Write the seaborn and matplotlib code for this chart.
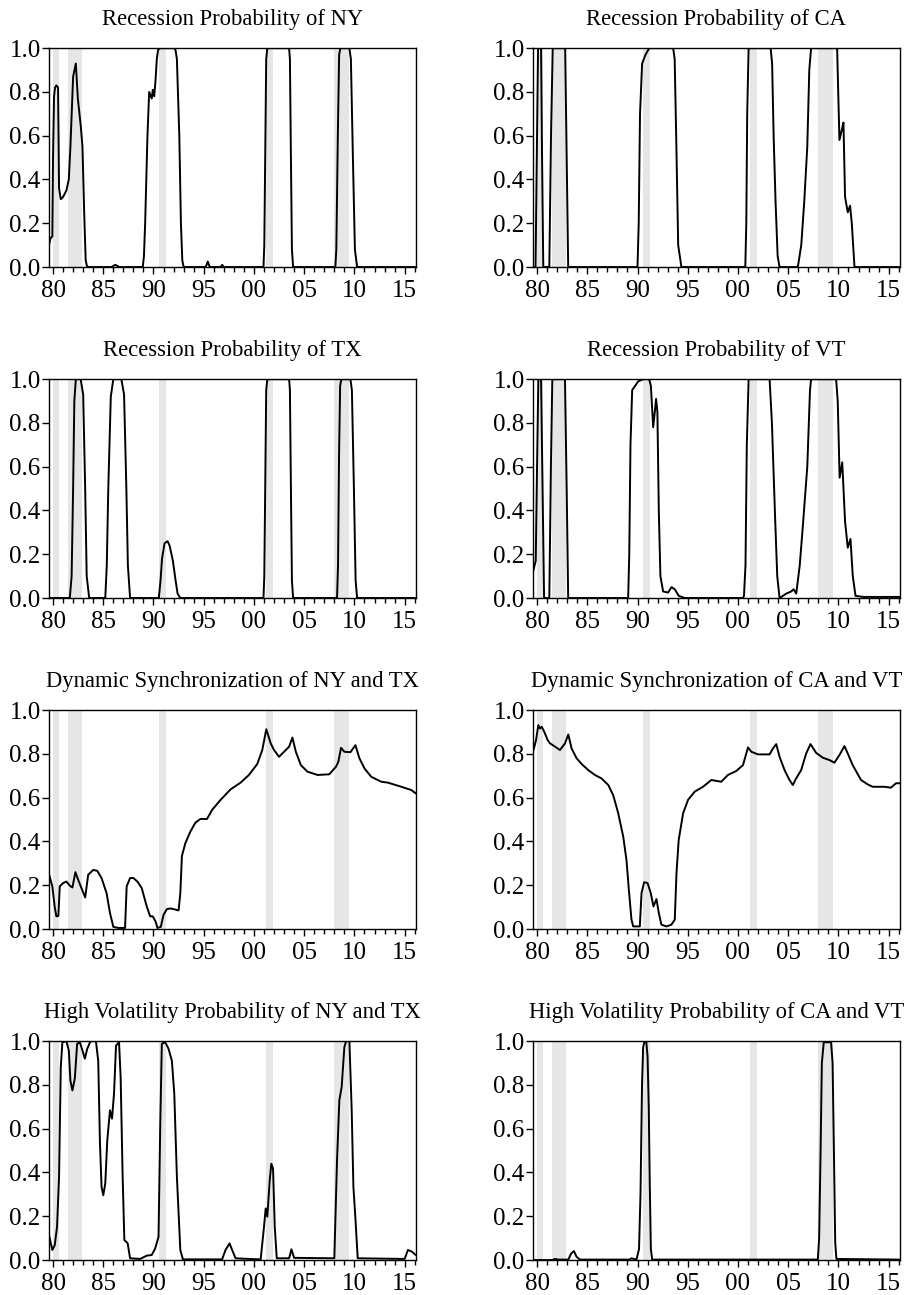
import matplotlib
matplotlib.use("Agg")
import matplotlib.pyplot as plt
import seaborn as sns
import pandas as pd
from matplotlib.ticker import MultipleLocator, FuncFormatter

# ---------------- data (decimal year, value) ----------------
NY_REC = [(1979.60,0.10),(1979.73,0.13),(1979.93,0.14),(1980.00,0.50),(1980.10,0.78),(1980.20,0.82),
          (1980.33,0.83),(1980.50,0.82),(1980.60,0.36),(1980.77,0.31),(1981.00,0.32),(1981.33,0.35),
          (1981.57,0.40),(1981.73,0.55),(1982.00,0.87),(1982.27,0.93),(1982.47,0.77),(1982.77,0.64),
          (1982.93,0.55),(1983.10,0.25),(1983.25,0.03),(1983.40,0.00),(1985.80,0.00),(1986.20,0.01),
          (1986.60,0.00),(1988.93,0.00),(1989.05,0.05),(1989.17,0.20),(1989.40,0.60),(1989.57,0.80),
          (1989.83,0.77),(1989.93,0.81),(1990.07,0.78),(1990.20,0.85),(1990.33,0.95),(1990.45,0.99),
          (1990.60,1.00),(1992.07,1.00),(1992.20,0.99),(1992.33,0.95),(1992.57,0.60),(1992.73,0.20),
          (1992.87,0.03),(1993.00,0.00),(1995.20,0.00),(1995.40,0.025),(1995.60,0.00),(1996.70,0.00),
          (1996.83,0.01),(1997.00,0.00),(2000.95,0.00),(2001.03,0.10),(2001.12,0.50),(2001.22,0.95),
          (2001.33,1.00),(2003.50,1.00),(2003.58,0.95),(2003.68,0.50),(2003.78,0.08),(2003.90,0.00),
          (2008.10,0.00),(2008.20,0.08),(2008.35,0.60),(2008.48,0.97),(2008.60,1.00),(2009.50,1.00),
          (2009.65,0.95),(2009.85,0.50),(2010.05,0.08),(2010.27,0.00),(2016.10,0.00)]

CA_REC = [(1979.60,0.00),(1979.85,0.00),(1980.00,0.60),(1980.10,1.00),(1980.40,1.00),(1980.50,0.50),
          (1980.62,0.00),(1981.22,0.00),(1981.39,0.60),(1981.56,1.00),(1982.80,1.00),(1982.95,0.50),
          (1983.10,0.00),(1990.00,0.00),(1990.12,0.20),(1990.25,0.70),(1990.46,0.93),(1990.80,0.97),
          (1991.16,1.00),(1993.55,1.00),(1993.70,0.95),(1993.85,0.60),(1994.05,0.10),(1994.37,0.00),
          (2000.73,0.00),(2000.83,0.20),(2000.92,0.70),(2001.06,1.00),(2003.25,1.00),(2003.40,0.93),
          (2003.55,0.60),(2003.74,0.30),(2003.95,0.05),(2004.14,0.00),(2005.96,0.00),(2006.30,0.10),
          (2006.60,0.30),(2006.90,0.55),(2007.10,0.90),(2007.28,1.00),(2009.87,1.00),(2010.10,0.58),
          (2010.35,0.63),(2010.50,0.66),(2010.66,0.32),(2010.93,0.25),(2011.16,0.28),(2011.33,0.20),
          (2011.60,0.00),(2016.10,0.00)]

TX_REC = [(1979.60,0.00),(1981.67,0.00),(1981.85,0.10),(1982.00,0.50),(1982.12,0.90),(1982.27,1.00),
          (1982.75,1.00),(1983.00,0.93),(1983.20,0.50),(1983.35,0.10),(1983.60,0.00),(1985.20,0.00),
          (1985.35,0.15),(1985.50,0.50),(1985.75,0.92),(1986.00,1.00),(1986.80,1.00),(1987.07,0.93),
          (1987.30,0.50),(1987.45,0.15),(1987.67,0.00),(1990.53,0.00),(1990.70,0.08),(1990.85,0.18),
          (1991.10,0.25),(1991.40,0.26),(1991.60,0.24),(1991.93,0.17),(1992.20,0.08),(1992.40,0.02),
          (1992.67,0.00),(2000.95,0.00),(2001.03,0.10),(2001.12,0.50),(2001.22,0.95),(2001.33,1.00),
          (2003.50,1.00),(2003.58,0.95),(2003.68,0.50),(2003.78,0.08),(2003.90,0.00),(2008.27,0.00),
          (2008.37,0.15),(2008.47,0.65),(2008.58,0.97),(2008.70,1.00),(2009.60,1.00),(2009.75,0.95),
          (2009.95,0.50),(2010.12,0.08),(2010.27,0.00),(2016.10,0.00)]

VT_REC = [(1979.60,0.12),(1979.87,0.17),(1980.00,0.60),(1980.13,1.00),(1980.40,1.00),(1980.55,0.50),
          (1980.70,0.00),(1981.22,0.00),(1981.38,0.60),(1981.52,1.00),(1982.78,1.00),(1982.95,0.50),
          (1983.10,0.00),(1989.07,0.00),(1989.18,0.20),(1989.30,0.70),(1989.47,0.95),(1990.07,0.99),
          (1990.60,1.00),(1991.16,1.00),(1991.33,0.97),(1991.56,0.78),(1991.72,0.85),(1991.85,0.91),
          (1991.98,0.85),(1992.12,0.40),(1992.28,0.10),(1992.55,0.03),(1993.05,0.025),(1993.38,0.05),
          (1993.71,0.04),(1994.10,0.01),(1994.70,0.00),(2000.50,0.00),(2000.60,0.01),(2000.75,0.15),
          (2000.88,0.70),(2001.06,1.00),(2003.15,1.00),(2003.38,0.80),(2003.71,0.35),(2003.91,0.10),
          (2004.14,0.00),(2004.80,0.02),(2005.30,0.03),(2005.54,0.04),(2005.80,0.02),(2006.15,0.15),
          (2006.46,0.33),(2006.90,0.60),(2007.17,0.95),(2007.28,1.00),(2009.77,1.00),(2009.93,0.90),
          (2010.12,0.55),(2010.38,0.62),(2010.66,0.35),(2010.93,0.23),(2011.20,0.27),(2011.43,0.10),
          (2011.70,0.01),(2012.50,0.005),(2016.10,0.005)]

NYTX_SYNC = [(1979.60,0.25),(1979.93,0.195),(1980.17,0.10),(1980.33,0.058),(1980.53,0.06),(1980.67,0.195),
             (1981.00,0.21),(1981.33,0.217),(1981.67,0.198),(1981.93,0.19),(1982.23,0.26),(1982.50,0.225),
             (1982.83,0.187),(1983.20,0.144),(1983.50,0.248),(1984.00,0.27),(1984.40,0.266),(1984.83,0.233),
             (1985.33,0.164),(1985.67,0.073),(1986.00,0.01),(1986.50,0.005),(1987.17,0.005),(1987.33,0.195),
             (1987.67,0.233),(1988.00,0.233),(1988.40,0.217),(1988.83,0.187),(1989.33,0.103),(1989.67,0.058),
             (1989.93,0.058),(1990.20,0.035),(1990.40,0.005),(1990.73,0.01),(1991.00,0.065),(1991.33,0.091),
             (1991.67,0.094),(1992.00,0.091),(1992.50,0.085),(1992.67,0.164),(1992.83,0.334),(1993.17,0.392),
             (1993.67,0.445),(1994.17,0.486),(1994.67,0.503),(1995.33,0.503),(1995.83,0.544),(1996.67,0.59),
             (1997.67,0.638),(1998.67,0.669),(1999.50,0.704),(2000.33,0.754),(2000.83,0.818),(2001.23,0.913),
             (2001.67,0.848),(2002.00,0.818),(2002.50,0.787),(2003.00,0.81),(2003.50,0.833),(2003.83,0.875),
             (2004.17,0.81),(2004.67,0.749),(2005.33,0.719),(2006.33,0.704),(2007.50,0.707),(2008.17,0.742),
             (2008.40,0.764),(2008.67,0.828),(2009.00,0.81),(2009.60,0.808),(2010.10,0.84),(2010.50,0.78),
             (2011.00,0.734),(2011.67,0.696),(2012.67,0.673),(2013.33,0.669),(2014.67,0.65),(2015.67,0.635),
             (2016.10,0.62)]

CAVT_SYNC = [(1979.60,0.81),(1979.90,0.863),(1980.13,0.932),(1980.30,0.916),(1980.47,0.924),(1980.73,0.90),
             (1981.06,0.863),(1981.30,0.848),(1981.80,0.833),(1982.28,0.818),(1982.78,0.848),(1983.11,0.889),
             (1983.44,0.825),(1983.94,0.78),(1984.44,0.754),(1985.10,0.726),(1985.76,0.704),(1986.42,0.688),
             (1987.09,0.658),(1987.58,0.612),(1988.08,0.529),(1988.58,0.422),(1988.90,0.316),(1989.14,0.179),
             (1989.40,0.043),(1989.57,0.012),(1990.23,0.012),(1990.40,0.164),(1990.66,0.214),(1991.00,0.21),
             (1991.32,0.164),(1991.59,0.103),(1991.89,0.137),(1992.12,0.073),(1992.38,0.02),(1992.88,0.012),
             (1993.38,0.02),(1993.71,0.043),(1993.88,0.255),(1994.10,0.407),(1994.54,0.529),(1995.03,0.59),
             (1995.70,0.628),(1996.52,0.65),(1997.35,0.681),(1998.34,0.673),(1999.00,0.704),(1999.83,0.722),
             (2000.50,0.749),(2001.00,0.83),(2001.33,0.81),(2002.00,0.798),(2003.15,0.798),(2003.48,0.825),
             (2003.81,0.845),(2004.14,0.787),(2004.64,0.726),(2005.13,0.681),(2005.46,0.658),(2005.79,0.688),
             (2006.29,0.726),(2006.79,0.802),(2007.22,0.845),(2007.78,0.805),(2008.44,0.783),(2009.11,0.772),
             (2009.60,0.76),(2010.10,0.795),(2010.60,0.836),(2010.93,0.802),(2011.42,0.749),(2012.25,0.681),
             (2012.91,0.661),(2013.41,0.65),(2014.57,0.65),(2015.23,0.646),(2015.73,0.666),(2016.10,0.666)]

NYTX_VOL = [(1979.60,0.114),(1979.93,0.046),(1980.17,0.068),(1980.40,0.152),(1980.60,0.38),(1980.77,0.88),
            (1980.93,0.995),(1981.33,1.00),(1981.57,0.957),(1981.73,0.82),(1981.93,0.775),(1982.17,0.83),
            (1982.40,0.988),(1982.67,0.995),(1982.93,0.957),(1983.17,0.92),(1983.40,0.965),(1983.73,1.00),
            (1984.27,1.00),(1984.50,0.91),(1984.67,0.535),(1984.83,0.334),(1985.00,0.296),(1985.20,0.35),
            (1985.40,0.547),(1985.67,0.684),(1985.87,0.646),(1986.07,0.76),(1986.27,0.98),(1986.57,0.995),
            (1986.73,0.836),(1986.93,0.38),(1987.10,0.091),(1987.27,0.084),(1987.43,0.076),(1987.67,0.008),
            (1988.67,0.005),(1989.33,0.02),(1989.83,0.023),(1990.17,0.053),(1990.50,0.106),(1990.67,0.61),
            (1990.83,0.988),(1991.17,0.995),(1991.50,0.965),(1991.83,0.91),(1992.07,0.76),(1992.33,0.38),
            (1992.67,0.046),(1992.93,0.003),(1996.83,0.003),(1997.17,0.046),(1997.57,0.076),(1997.83,0.046),
            (1998.17,0.008),(1999.00,0.006),(2000.67,0.003),(2001.00,0.152),(2001.17,0.236),(2001.33,0.198),
            (2001.57,0.365),(2001.73,0.44),(2001.90,0.418),(2002.07,0.152),(2002.27,0.008),(2003.50,0.008),
            (2003.73,0.049),(2004.00,0.01),(2008.00,0.008),(2008.27,0.456),(2008.50,0.73),(2008.73,0.79),
            (2009.00,0.973),(2009.17,1.00),(2009.50,1.00),(2009.73,0.684),(2009.90,0.334),(2010.07,0.213),
            (2010.33,0.008),(2015.00,0.005),(2015.33,0.046),(2015.73,0.038),(2016.10,0.023)]

CAVT_VOL = [(1979.60,0.000),(1981.50,0.000),(1981.79,0.005),(1982.10,0.002),(1983.11,0.002),(1983.40,0.03),
            (1983.67,0.041),(1983.93,0.015),(1984.27,0.002),(1989.20,0.002),(1989.40,0.008),(1989.90,0.002),
            (1990.15,0.05),(1990.30,0.304),(1990.45,0.80),(1990.56,0.973),(1990.70,0.998),(1990.88,0.995),
            (1991.00,0.93),(1991.12,0.70),(1991.22,0.35),(1991.33,0.05),(1991.46,0.002),(2007.95,0.002),
            (2008.08,0.10),(2008.21,0.456),(2008.35,0.90),(2008.54,0.995),(2009.27,0.995),(2009.42,0.90),
            (2009.55,0.50),(2009.68,0.08),(2009.80,0.005),(2016.10,0.002)]

RECESSIONS = [(1979.95, 1980.58), (1981.50, 1982.92), (1990.50, 1991.22),
              (2001.17, 2001.92), (2007.92, 2009.50)]

TITLES = ["Recession Probability of NY", "Recession Probability of CA",
          "Recession Probability of TX", "Recession Probability of VT",
          "Dynamic Synchronization of NY and TX", "Dynamic Synchronization of CA and VT",
          "High Volatility Probability of NY and TX", "High Volatility Probability of CA and VT"]
SERIES = [NY_REC, CA_REC, TX_REC, VT_REC, NYTX_SYNC, CAVT_SYNC, NYTX_VOL, CAVT_VOL]

# ---------------- style ----------------
sns.set_style("ticks")
plt.rcParams["font.family"] = ["Liberation Serif", "DejaVu Serif"]
plt.rcParams["text.color"] = "black"
plt.rcParams["xtick.color"] = "black"
plt.rcParams["ytick.color"] = "black"

fig = plt.figure(figsize=(9.11, 12.95), dpi=100)

lefts = [0.0538, 0.5851]
width = 0.4025
bottoms = [0.7938, 0.5382, 0.2826, 0.0270]
height = 0.1690

for i, (title, ser) in enumerate(zip(TITLES, SERIES)):
    r, c = divmod(i, 2)
    ax = fig.add_axes([lefts[c], bottoms[r], width, height])
    for a, b in RECESSIONS:
        ax.axvspan(a, b, color="#e6e6e6", lw=0, zorder=0)
    df = pd.DataFrame(ser, columns=["year", "value"])
    sns.lineplot(data=df, x="year", y="value", ax=ax, color="black", lw=1.4,
                 estimator=None, sort=False, zorder=3)
    ax.set_xlim(1979.6, 2016.1)
    ax.set_ylim(0, 1)
    ax.set_xlabel("")
    ax.set_ylabel("")
    ax.xaxis.set_major_locator(MultipleLocator(5))
    ax.xaxis.set_minor_locator(MultipleLocator(1))
    ax.xaxis.set_major_formatter(FuncFormatter(lambda v, p: f"{int(round(v)) % 100:02d}"))
    ax.yaxis.set_major_locator(MultipleLocator(0.2))
    ax.yaxis.set_major_formatter(FuncFormatter(lambda v, p: f"{v:.1f}"))
    ax.tick_params(axis="both", which="major", direction="out", length=5, width=1,
                   labelsize=18)
    ax.tick_params(axis="y", which="major", pad=1)
    ax.tick_params(axis="x", which="major", pad=4)
    ax.tick_params(axis="x", which="minor", direction="out", length=3.5, width=1)
    ax.tick_params(axis="y", which="minor", length=0)
    for s in ax.spines.values():
        s.set_linewidth(1.0)
        s.set_color("black")
        s.set_visible(True)
    ax.set_title(title, fontsize=16.3, pad=17)

fig.savefig("out.png", dpi=100, facecolor="white")
